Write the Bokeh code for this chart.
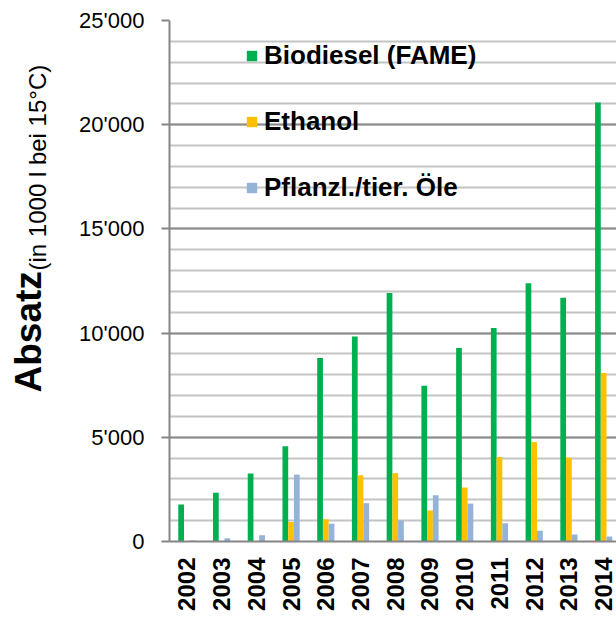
import math
from bokeh.plotting import figure
from bokeh.layouts import row
from bokeh.models import (Range1d, FixedTicker, SingleIntervalTicker, Legend, LegendItem,
                          ColumnDataSource)
from bokeh.core.properties import value
from bokeh.transform import dodge
from bokeh.embed import file_html
from bokeh.resources import INLINE

years = ["2002", "2003", "2004", "2005", "2006", "2007", "2008",
         "2009", "2010", "2011", "2012", "2013", "2014"]
biodiesel = [1780, 2340, 3260, 4570, 8810, 9840, 11920, 7470, 9290, 10240, 12390, 11700, 21060]
ethanol = [0, 0, 0, 930, 1070, 3180, 3280, 1490, 2590, 4060, 4770, 4020, 8080]
oils = [50, 150, 300, 3210, 850, 1840, 1010, 2220, 1820, 880, 510, 330, 240]
series_names = ["Biodiesel (FAME)", "Ethanol", "Pflanzl./tier. Öle"]
colors = ["#00B050", "#FFC000", "#95B3D7"]
y_ticks = [0, 5000, 10000, 15000, 20000, 25000]
y_tick_labels = ["0", "5'000", "10'000", "15'000", "20'000", "25'000"]
title_main = "Absatz"
title_sub = "(in 1000 l  bei 15°C)"

FONT = "Liberation Sans"
H = 619
TW = 60              # width of the strip holding the axis title
W = 616 - TW
LEFT, TOP, BOTTOM = 169 - TW, 20, 78

# ---- axis title strip (rotated texts) ----
tp = figure(width=TW, height=H, output_backend="svg", toolbar_location=None,
            x_range=Range1d(0, TW), y_range=Range1d(0, H),
            min_border=0, min_border_left=0, min_border_right=0, min_border_top=0, min_border_bottom=0)
tp.axis.visible = False
tp.grid.visible = False
tp.outline_line_color = None
tp.text(x=[28], y=[H - 442], text=[title_main], angle=math.pi / 2,
        text_font=value(FONT), text_font_style="bold", text_font_size=value("37px"),
        text_color="black", text_baseline="alphabetic", text_align="left")
tp.text(x=[37], y=[H - 297], text=[title_sub], angle=math.pi / 2,
        text_font=value(FONT), text_font_size=value("24px"),
        text_color="black", text_baseline="alphabetic", text_align="left")

# ---- main chart ----
src = ColumnDataSource(dict(x=list(range(len(years))), bio=biodiesel, eth=ethanol, oil=oils))

p = figure(width=W, height=H, output_backend="svg", toolbar_location=None,
           x_range=Range1d(-0.5, 12.37), y_range=Range1d(0, 25000),
           min_border_left=LEFT, min_border_right=0, min_border_top=TOP, min_border_bottom=BOTTOM)
p.outline_line_color = None
p.background_fill_color = "white"

bw = 0.165
r1 = p.vbar(x=dodge("x", -bw), top="bio", width=bw, source=src, fill_color=colors[0], line_color=None)
r2 = p.vbar(x=dodge("x", 0), top="eth", width=bw, source=src, fill_color=colors[1], line_color=None)
r3 = p.vbar(x=dodge("x", bw), top="oil", width=bw, source=src, fill_color=colors[2], line_color=None)

# y axis
p.yaxis.ticker = SingleIntervalTicker(interval=5000, num_minor_ticks=5)
p.yaxis.major_label_overrides = {t: l for t, l in zip(y_ticks, y_tick_labels)}
p.yaxis.major_label_text_font = FONT
p.yaxis.major_label_text_font_size = "22px"
p.yaxis.major_label_text_color = "black"
p.yaxis.major_tick_out = 8
p.yaxis.major_tick_in = 0
p.yaxis.minor_tick_out = 0
p.yaxis.minor_tick_in = 0
p.yaxis.major_label_standoff = 17
p.yaxis.axis_line_color = "#868686"
p.yaxis.axis_line_width = 2
p.yaxis.major_tick_line_color = "#868686"
p.yaxis.major_tick_line_width = 2

# x axis
p.xaxis.ticker = FixedTicker(ticks=list(range(len(years))))
p.xaxis.major_label_overrides = {i: y for i, y in enumerate(years)}
p.xaxis.major_label_orientation = math.pi / 2
p.xaxis.major_label_text_font = FONT
p.xaxis.major_label_text_font_style = "bold"
p.xaxis.major_label_text_font_size = "24px"
p.xaxis.major_label_text_color = "black"
p.xaxis.major_tick_out = 0
p.xaxis.major_tick_in = 0
p.xaxis.minor_tick_out = 0
p.xaxis.minor_tick_in = 0
p.xaxis.major_label_standoff = 16
p.xaxis.axis_line_color = "#868686"
p.xaxis.axis_line_width = 2

# grid
p.xgrid.grid_line_color = None
p.ygrid.grid_line_color = "#8C8C8C"
p.ygrid.grid_line_width = 2
p.ygrid.minor_grid_line_color = "#C4C4C4"
p.ygrid.minor_grid_line_width = 2

legend = Legend(items=[LegendItem(label=series_names[0], renderers=[r1]),
                       LegendItem(label=series_names[1], renderers=[r2]),
                       LegendItem(label=series_names[2], renderers=[r3])],
                location=(76, 338), orientation="vertical")
legend.glyph_width = 13
legend.glyph_height = 13
legend.label_standoff = 6
legend.spacing = 35
legend.padding = 0
legend.margin = 0
legend.background_fill_alpha = 0
legend.border_line_alpha = 0
legend.label_text_font = FONT
legend.label_text_font_style = "bold"
legend.label_text_font_size = "26px"
legend.label_text_color = "black"
p.add_layout(legend, "center")

layout = row(tp, p, spacing=0)
open("out.html", "w").write(file_html(layout, INLINE))
